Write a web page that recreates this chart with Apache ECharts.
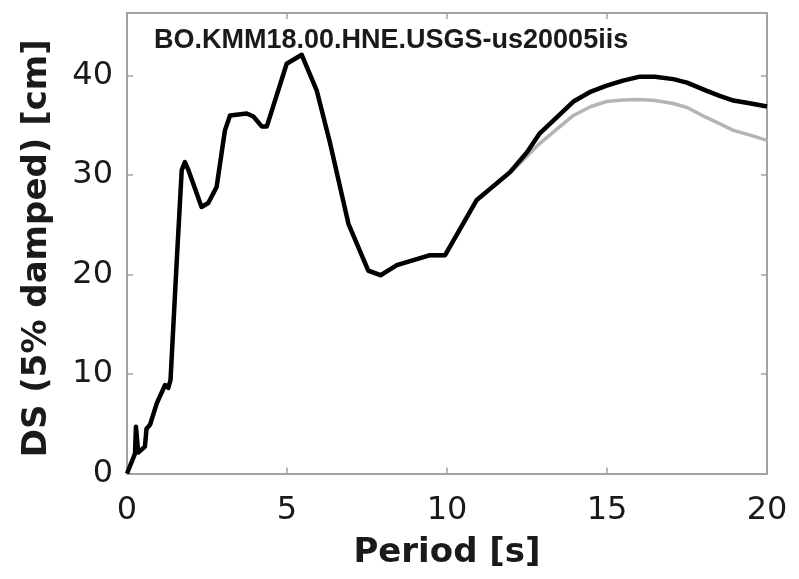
<!DOCTYPE html>
<html>
<head>
<meta charset="utf-8">
<script src="https://cdn.jsdelivr.net/npm/echarts@6/dist/echarts.min.js"></script>
<style>
  html, body { margin: 0; padding: 0; background: #ffffff; }
  #chart { width: 799px; height: 579px; }
</style>
</head>
<body>
<div id="chart"></div>
<script>
// Displacement response spectrum, station BO.KMM18.00.HNE
const stationTitle = 'BO.KMM18.00.HNE.USGS-us20005iis';

// Period [s]
const periods = [0, 0.25, 0.28, 0.35, 0.56, 0.61, 0.72, 0.93, 1.19, 1.29, 1.36, 1.55, 1.71, 1.81, 1.92,
  2.33, 2.54, 2.8, 3.06, 3.22, 3.74, 3.95, 4.21, 4.37, 4.99, 5.46, 5.93, 6.34, 6.92, 7.54, 7.93,
  8.43, 9.47, 9.94, 10.93, 11.97, 12.5, 12.9, 13.95, 14.5, 14.99, 15.5, 16.03, 16.5, 17.07, 17.5,
  18.1, 18.5, 18.95, 19.5, 20];

// DS (5% damped) [cm], black trace
const dsBlack = [0, 2.0, 4.7, 2.1, 2.7, 4.5, 4.9, 7.05, 8.9, 8.6, 9.4, 21.1, 30.5, 31.3, 30.5,
  26.8, 27.2, 28.8, 34.5, 36.0, 36.2, 35.9, 34.9, 34.9, 41.2, 42.1, 38.5, 33.3, 25.1, 20.4, 19.95,
  20.95, 21.95, 21.95, 27.5, 30.3, 32.3, 34.2, 37.4, 38.4, 39.0, 39.5, 39.9, 39.9, 39.65, 39.3,
  38.5, 38.0, 37.5, 37.2, 36.9];

// DS (5% damped) [cm], grey trace
const dsGrey = [0, 2.0, 4.7, 2.1, 2.7, 4.5, 4.9, 7.05, 8.9, 8.6, 9.4, 21.1, 30.5, 31.3, 30.5,
  26.8, 27.2, 28.8, 34.5, 36.0, 36.2, 35.9, 34.9, 34.9, 41.2, 42.1, 38.5, 33.3, 25.1, 20.3, 19.85,
  20.9, 21.9, 21.9, 27.5, 30.2, 31.9, 33.2, 36.0, 36.9, 37.4, 37.55, 37.6, 37.5, 37.2, 36.8,
  35.8, 35.2, 34.5, 34.0, 33.5];

const xTicks = { min: 0, max: 20, interval: 5 };
const yTicks = { min: 0, max: 46.3, interval: 10 };

const pairs = (xs, ys) => xs.map((x, i) => [x, ys[i]]);

const axisGrey = '#a3a3a3';
const tickFont = { fontFamily: 'DejaVu Sans', fontSize: 32, color: '#1a1a1a' };
const nameFont = { fontFamily: 'DejaVu Sans', fontSize: 34, fontWeight: 'bold', color: '#1a1a1a' };

function frameAxis() {
  return {
    axisLine: { show: true, onZero: false, lineStyle: { color: axisGrey, width: 2 } },
    axisTick: { show: true, inside: true, length: 6, lineStyle: { color: axisGrey, width: 1.5 } },
    splitLine: { show: false }
  };
}

const chart = echarts.init(document.getElementById('chart'), null, { renderer: 'canvas' });
chart.setOption({
  animation: false,
  backgroundColor: '#ffffff',
  title: {
    text: stationTitle,
    left: 149, top: 22,
    textStyle: { fontFamily: 'Liberation Sans', fontSize: 27, fontWeight: 'bold', color: '#1a1a1a' }
  },
  grid: { left: 127, right: 32, top: 13, bottom: 105.5, containLabel: false },
  xAxis: [
    Object.assign(frameAxis(), {
      type: 'value', position: 'bottom', min: xTicks.min, max: xTicks.max, interval: xTicks.interval,
      name: 'Period [s]', nameLocation: 'middle', nameGap: 63, nameTextStyle: nameFont,
      axisLabel: Object.assign({ margin: 21 }, tickFont)
    }),
    Object.assign(frameAxis(), {
      type: 'value', position: 'top', min: xTicks.min, max: xTicks.max, interval: xTicks.interval,
      axisLabel: { show: false }
    })
  ],
  yAxis: [
    Object.assign(frameAxis(), {
      type: 'value', position: 'left', min: yTicks.min, max: yTicks.max, interval: yTicks.interval,
      name: 'DS (5% damped) [cm]', nameLocation: 'middle', nameGap: 73, nameRotate: 90,
      nameTextStyle: Object.assign({ padding: [0, 10, 0, 0] }, nameFont),
      axisLabel: Object.assign({ margin: 14, showMaxLabel: false }, tickFont)
    }),
    Object.assign(frameAxis(), {
      type: 'value', position: 'right', min: yTicks.min, max: yTicks.max, interval: yTicks.interval,
      axisLabel: { show: false }
    })
  ],
  series: [
    {
      type: 'line', data: pairs(periods, dsGrey), xAxisIndex: 0, yAxisIndex: 0,
      showSymbol: false, lineStyle: { color: '#b4b4b4', width: 3.5 }, z: 2
    },
    {
      type: 'line', data: pairs(periods, dsBlack), xAxisIndex: 0, yAxisIndex: 0,
      showSymbol: false, lineStyle: { color: '#000000', width: 4.5, join: 'round' }, z: 3
    }
  ]
});
</script>
</body>
</html>
